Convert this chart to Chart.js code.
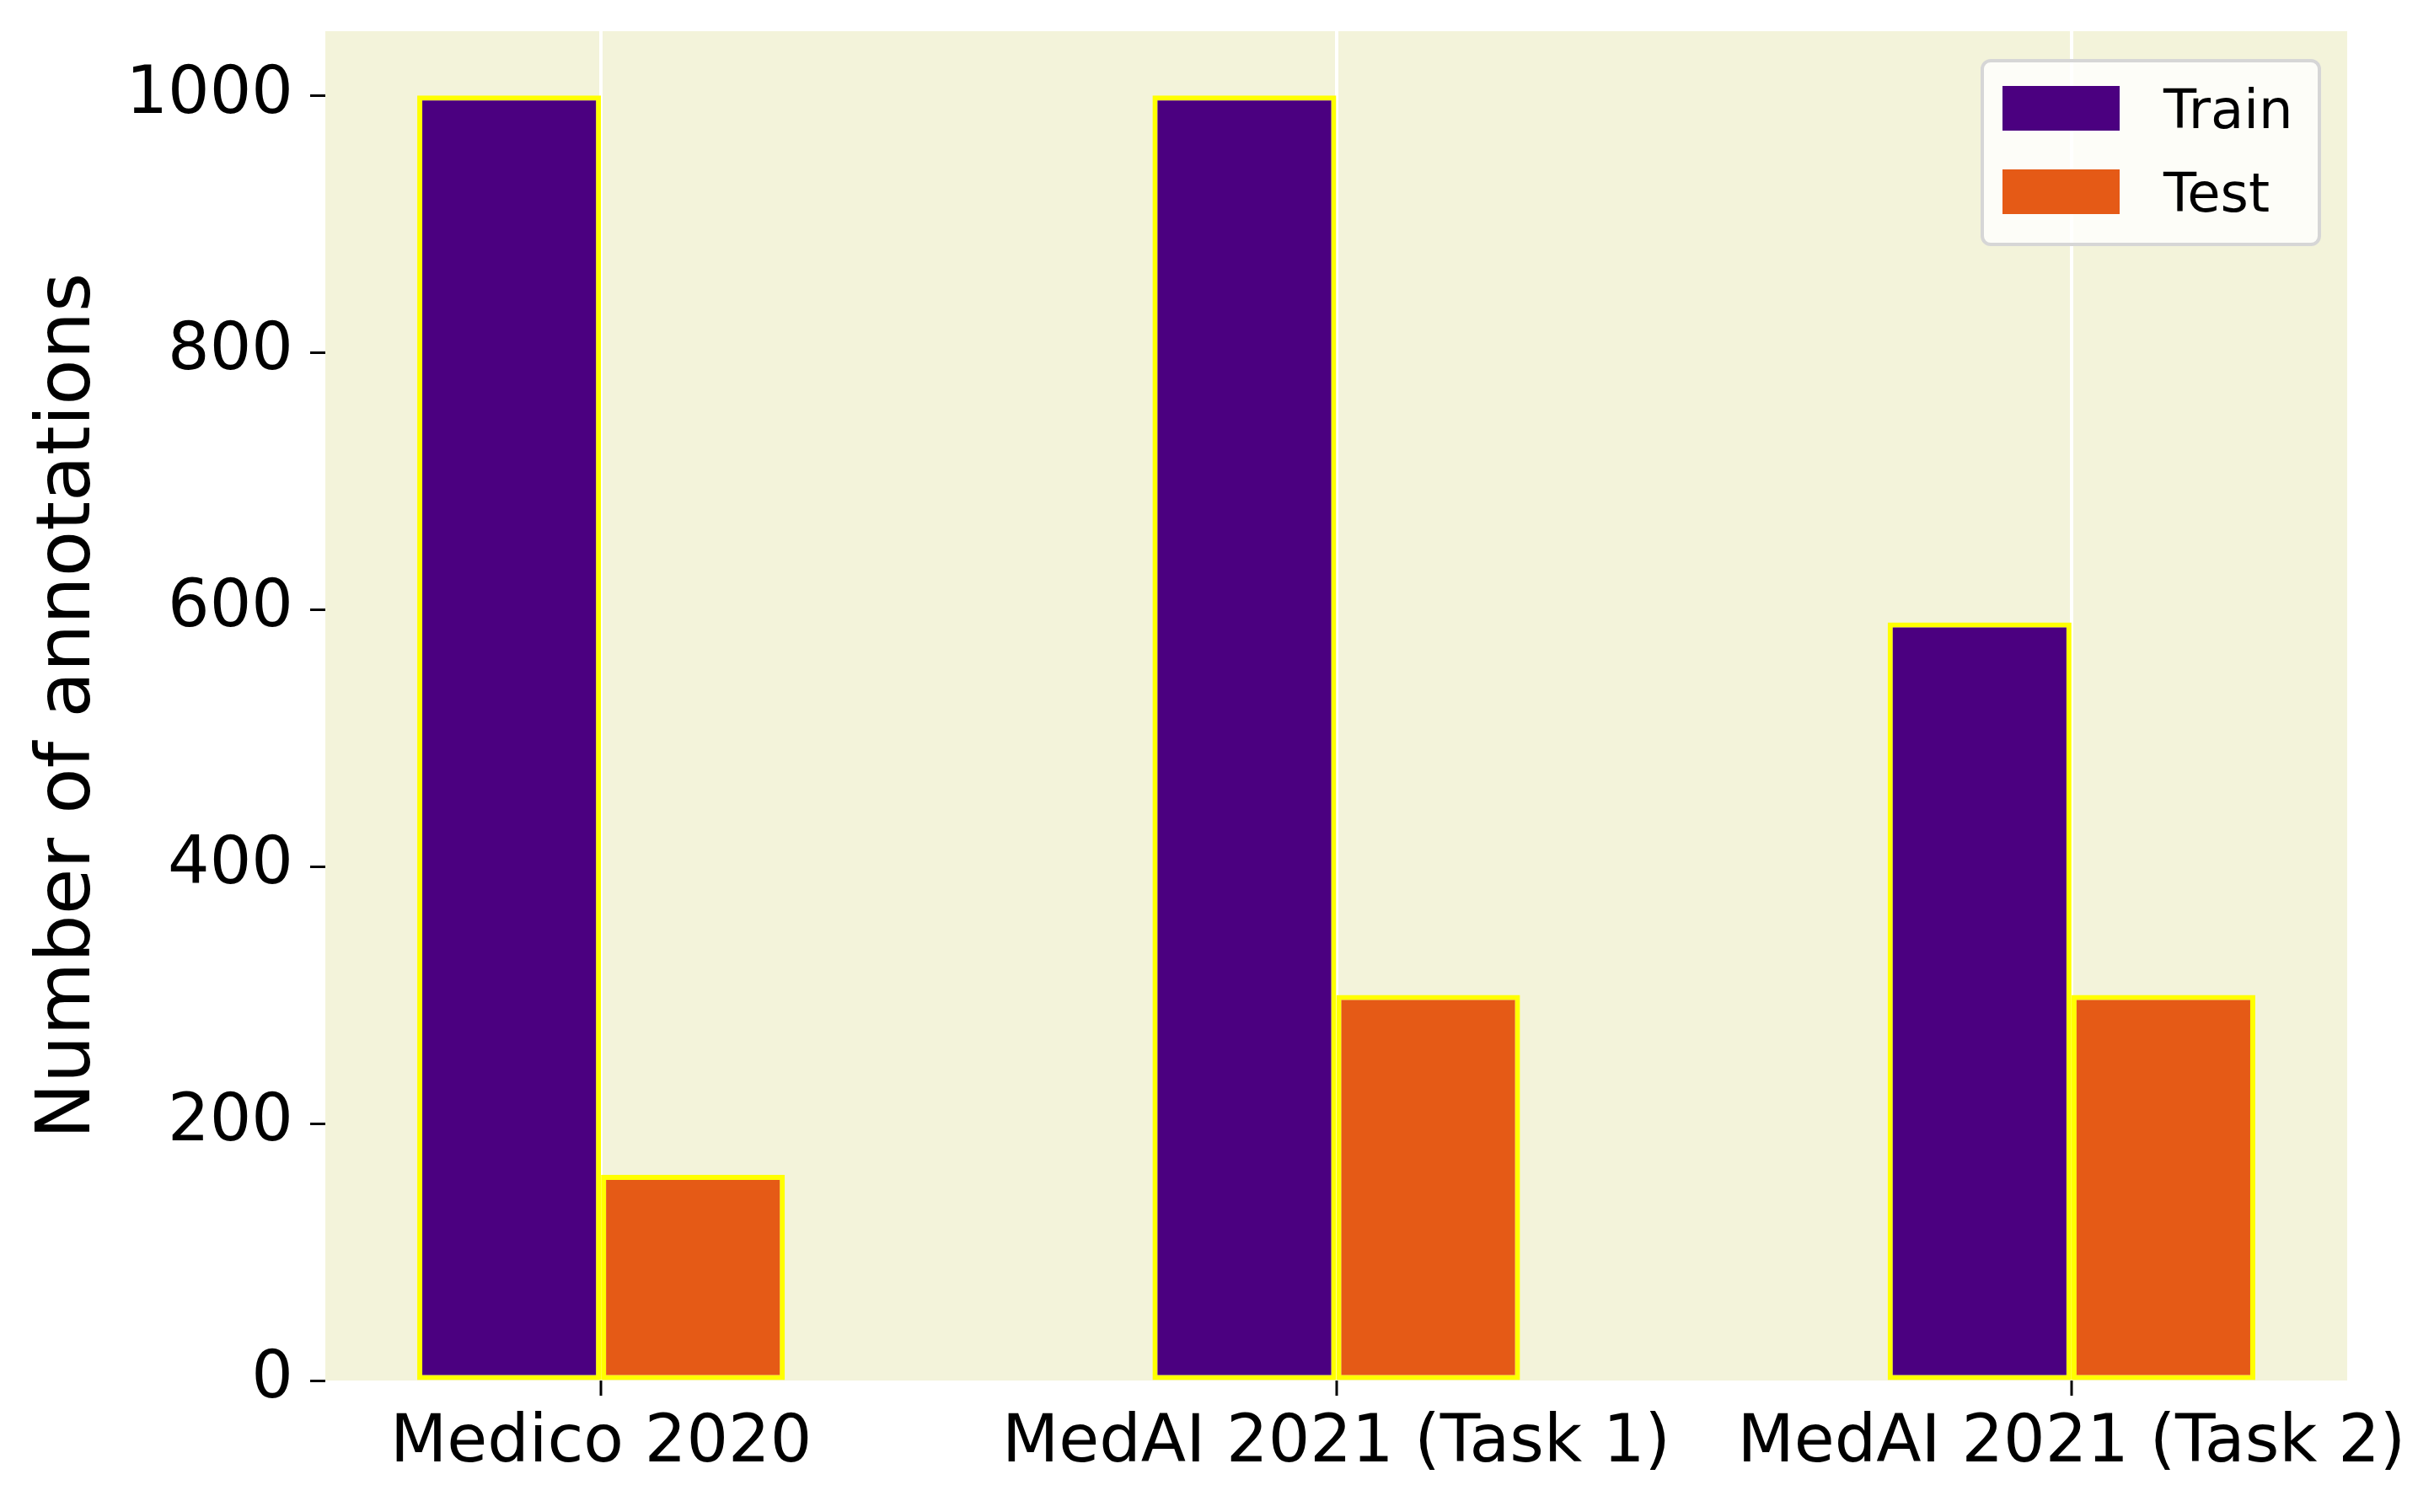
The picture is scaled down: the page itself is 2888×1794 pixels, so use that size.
<!DOCTYPE html>
<html lang="en">
<head>
  <meta charset="UTF-8" />
  <title>Number of annotations</title>
  <style>
    html, body { margin: 0; padding: 0; background: #fff; }
    #wrap { width: 2888px; height: 1794px; }
  </style>
</head>
<body>
  <div id="wrap"><canvas id="chart" width="2888" height="1794"></canvas></div>

  <script src="https://cdn.jsdelivr.net/npm/chart.js"></script>
  <script>
    const categories = ["Medico 2020", "MedAI 2021 (Task 1)", "MedAI 2021 (Task 2)"];
    const trainValues = [1000, 1000, 590];
    const testValues = [160, 300, 300];
    const yTicks = [0, 200, 400, 600, 800, 1000];

    const FONT = "'DejaVu Sans', sans-serif";
    const plotBg = "#f3f3da";

    // matplotlib-like plot background
    const bgPlugin = {
      id: "plotBg",
      beforeDraw(chart) {
        const { ctx, chartArea: a } = chart;
        ctx.save();
        ctx.fillStyle = plotBg;
        ctx.fillRect(a.left, a.top, a.right - a.left, a.bottom - a.top);
        ctx.restore();
      }
    };

    // legend box in the upper right corner of the plot
    const legendPlugin = {
      id: "boxLegend",
      afterDraw(chart) {
        const { ctx } = chart;
        const x = 2352, y = 72, w = 400, h = 218;
        ctx.save();
        ctx.beginPath();
        ctx.roundRect(x, y, w, h, 10);
        ctx.fillStyle = "rgba(255,255,255,0.8)";
        ctx.fill();
        ctx.lineWidth = 4;
        ctx.strokeStyle = "#d6d6d6";
        ctx.stroke();
        ctx.font = "64px " + FONT;
        ctx.textBaseline = "middle";
        chart.data.datasets.forEach((ds, i) => {
          const cy = 128 + i * 99;
          ctx.fillStyle = ds.backgroundColor;
          ctx.fillRect(2376, cy - 26, 139, 53);
          ctx.fillStyle = "#000";
          ctx.fillText(ds.label, 2567, cy + 7);
        });
        ctx.restore();
      }
    };

    const toPoints = vals => vals.map((v, i) => ({ x: i, y: v }));

    new Chart(document.getElementById("chart"), {
      type: "bar",
      data: {
        datasets: [
          {
            label: "Train",
            data: toPoints(trainValues),
            backgroundColor: "#4b0080",
            borderColor: "#ffff00",
            borderWidth: 6,
            borderSkipped: false
          },
          {
            label: "Test",
            data: toPoints(testValues),
            backgroundColor: "#e55a16",
            borderColor: "#ffff00",
            borderWidth: 6,
            borderSkipped: false
          }
        ]
      },
      options: {
        responsive: false,
        devicePixelRatio: 1,
        animation: false,
        categoryPercentage: 0.5,
        barPercentage: 1.0,
        layout: { padding: { top: 37, right: 103, left: 0, bottom: 0 } },
        plugins: {
          legend: { display: false },
          tooltip: { enabled: false }
        },
        scales: {
          x: {
            type: "linear",
            min: -0.375,
            max: 2.375,
            offset: false,
            border: { display: false },
            grid: {
              offset: false,
              color: "#ffffff",
              lineWidth: 4,
              drawTicks: true,
              tickLength: 18,
              tickColor: "#000",
              tickWidth: 3
            },
            afterBuildTicks(scale) {
              scale.ticks = categories.map((c, i) => ({ value: i }));
            },
            afterFit(scale) {
              scale.height = 156;
              scale.paddingLeft = 0;
              scale.paddingRight = 0;
            },
            ticks: {
              color: "#000",
              padding: 11,
              maxRotation: 0,
              autoSkip: false,
              font: { family: FONT, size: 78 },
              callback: v => categories[v]
            }
          },
          y: {
            min: 0,
            max: 1050,
            border: { display: false },
            grid: {
              drawOnChartArea: false,
              drawTicks: true,
              tickLength: 18,
              tickColor: "#000",
              tickWidth: 3
            },
            afterBuildTicks(scale) {
              scale.ticks = yTicks.map(v => ({ value: v }));
            },
            afterFit(scale) {
              scale.width = 386;
              scale.paddingTop = 0;
              scale.paddingBottom = 0;
            },
            ticks: {
              color: "#000",
              padding: 20,
              font: { family: FONT, size: 78 },
              callback: v => String(v)
            },
            title: {
              display: true,
              text: "Number of annotations",
              color: "#000",
              font: { family: FONT, size: 89, lineHeight: 1.0 },
              padding: { top: 38, bottom: 0 }
            }
          }
        }
      },
      plugins: [bgPlugin, legendPlugin]
    });
  </script>
</body>
</html>
